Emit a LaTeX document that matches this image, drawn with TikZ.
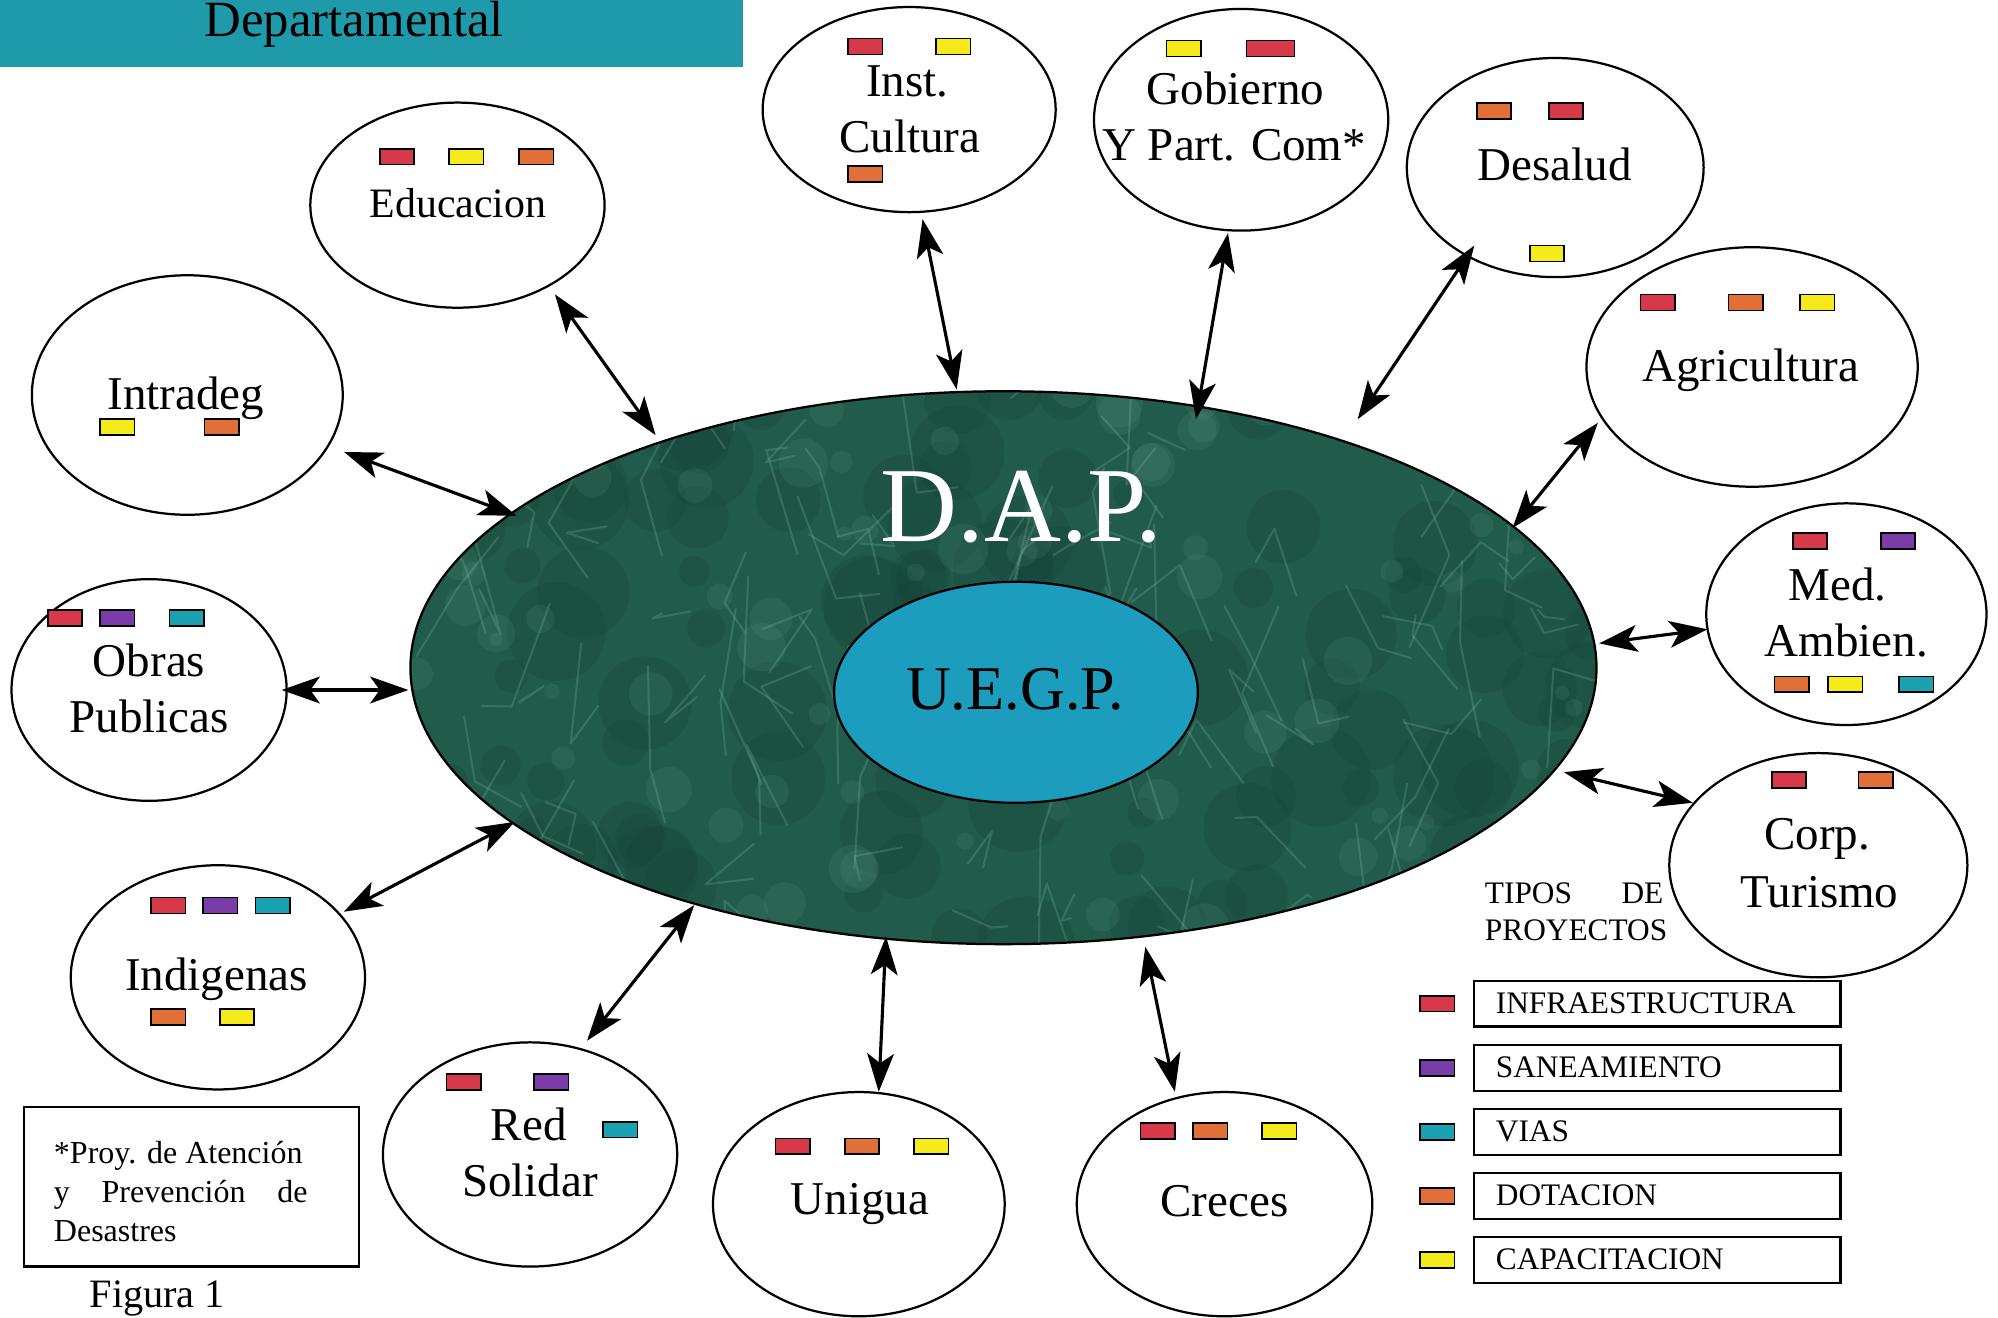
\documentclass[tikz,border=0pt]{standalone}
\usepackage{fontspec}
\setmainfont{Liberation Serif}
\usetikzlibrary{shapes.geometric,arrows.meta}
\definecolor{cred}{HTML}{D8394A}
\definecolor{cyel}{HTML}{F5EB1A}
\definecolor{cora}{HTML}{E07038}
\definecolor{cpur}{HTML}{7A3CA8}
\definecolor{ctea}{HTML}{1AA2B2}
\definecolor{hdrteal}{HTML}{1E9AAA}
\definecolor{uegpc}{HTML}{1C9DBE}
\definecolor{dapg}{HTML}{205B4B}
\definecolor{dapd}{HTML}{143F34}
\definecolor{dapv}{HTML}{7FBAA8}
\newcommand\mysq[3]{\draw[sqst, fill=#3] (#1-13.5,#2-6.25) rectangle (#1+13.5,#2+6.25);}
\newcommand\mysqw[3]{\draw[sqst, fill=#3] (#1-18.75,#2-6.25) rectangle (#1+18.75,#2+6.25);}
\tikzset{
  sat/.style={draw, ellipse, line width=1pt, inner sep=0, fill=white},
  lab/.style={inner sep=0, anchor=base, font=\fontsize{21}{25}\selectfont},
  conn/.style={line width=1.4pt, {Stealth[length=0.6cm,width=0.42cm,inset=0.15cm]}-{Stealth[length=0.6cm,width=0.42cm,inset=0.15cm]}},
  sqst/.style={line width=0.7pt, draw=black},
  legbox/.style={draw, line width=1.1pt, minimum width=5.76cm, minimum height=0.72cm, inner sep=0, anchor=west},
  legtxt/.style={inner sep=0, anchor=base west, font=\fontsize{14}{16}\selectfont},
  fntxt/.style={inner sep=0, anchor=base west, font=\fontsize{14.3}{16}\selectfont},
  vein/.style={draw=dapv, line width=0.9pt, opacity=0.25, line join=round, line cap=round},
}
\begin{document}
\begin{tikzpicture}[x=0.02cm, y=-0.02cm]
\useasboundingbox (0,0) rectangle (1568,1034);
\fill[white] (0,0) rectangle (1568,1034);

% header
\node[fill=hdrteal, minimum width=11.66cm, minimum height=1.04cm, anchor=north west, inner sep=0] (hdr) at (0,0) {};
\node[inner sep=0, anchor=base, font=\fontsize{22.7}{26}\selectfont] (hdrt) at (278,29) {Departamental};

% central ellipse
\node[ellipse, fill=dapg, minimum width=18.62cm, minimum height=8.68cm, inner sep=0] (dap) at (787.5,524) {};
\begin{scope}
\clip (787.5,524) ellipse [x radius=9.31cm, y radius=4.34cm];
\pgfmathsetseed{42}
\foreach \i in {1,...,110}{
  \pgfmathsetmacro\vax{320+935*rnd}
  \pgfmathsetmacro\vay{300+450*rnd}
  \pgfmathsetmacro\vrr{0.2+0.6*rnd}
  \fill[dapd, opacity=0.22] (\vax,\vay) circle [radius=\vrr cm];
}
\foreach \i in {1,...,90}{
  \pgfmathsetmacro\vax{320+935*rnd}
  \pgfmathsetmacro\vay{300+450*rnd}
  \pgfmathsetmacro\vrr{0.1+0.3*rnd}
  \fill[dapv, opacity=0.10] (\vax,\vay) circle [radius=\vrr cm];
}
\foreach \i in {1,...,140}{
  \pgfmathsetmacro\vax{320+935*rnd}
  \pgfmathsetmacro\vay{300+450*rnd}
  \pgfmathsetmacro\vbx{\vax+(rnd-0.5)*80}
  \pgfmathsetmacro\vby{\vay+(rnd-0.3)*120}
  \pgfmathsetmacro\vcx{\vbx+(rnd-0.5)*80}
  \pgfmathsetmacro\vcy{\vby+(rnd-0.3)*120}
  \draw[vein] (\vax,\vay) -- (\vbx,\vby) -- (\vcx,\vcy);
}
\end{scope}
\draw[line width=1pt] (dap.center) ellipse [x radius=9.31cm, y radius=4.34cm];
\node[inner sep=0, anchor=base, text=white, font=\fontsize{47.6}{50}\selectfont] (daptxt) at (801.5,425) {D.A.P.};
\node[ellipse, draw, line width=1pt, fill=uegpc, minimum width=5.71cm, minimum height=3.47cm, inner sep=0] (uegp) at (797.3,543.3) {};
\node[inner sep=0, anchor=base, font=\fontsize{27.8}{30}\selectfont] (uegptxt) at (796.5,557) {U.E.G.P.};

% satellites
\node[sat, minimum width=4.62cm, minimum height=3.22cm] (edu) at (359,161) {};
\node[sat, minimum width=4.6cm, minimum height=3.22cm] (cul) at (713.5,86) {};
\node[sat, minimum width=4.62cm, minimum height=3.48cm] (gob) at (974,94) {};
\node[sat, minimum width=4.66cm, minimum height=3.44cm] (sal) at (1220.5,131.5) {};
\node[sat, minimum width=5.2cm, minimum height=3.76cm] (agr) at (1375,288) {};
\node[sat, minimum width=4.4cm, minimum height=3.48cm] (amb) at (1449,482) {};
\node[sat, minimum width=4.68cm, minimum height=3.52cm] (tur) at (1427,679) {};
\node[sat, minimum width=4.64cm, minimum height=3.52cm] (cre) at (961,945) {};
\node[sat, minimum width=4.58cm, minimum height=3.52cm] (uni) at (674,945) {};
\node[sat, minimum width=4.62cm, minimum height=3.52cm] (red) at (416,906) {};
\node[sat, minimum width=4.62cm, minimum height=3.52cm] (ind) at (171,767) {};
\node[sat, minimum width=4.32cm, minimum height=3.48cm] (obr) at (117,541.5) {};
\node[sat, minimum width=4.88cm, minimum height=3.76cm] (int) at (147,310) {};

% labels
\node[lab, font=\fontsize{18.7}{22}\selectfont] (edu-t) at (359.5,171) {Educacion};
\node[lab] (cul-t1) at (712,76) {Inst.};
\node[lab] (cul-t2) at (714,120) {Cultura};
\node[lab] (gob-t1) at (969.5,82) {Gobierno};
\node[lab] (gob-t2) at (968.5,126) {Y Part. Com*};
\node[lab] (sal-t) at (1220,142) {Desalud};
\node[lab] (agr-t) at (1374,299) {Agricultura};
\node[lab] (amb-t1) at (1442,471) {Med.};
\node[lab] (amb-t2) at (1449,515) {Ambien.};
\node[lab] (tur-t1) at (1426,667) {Corp.};
\node[lab] (tur-t2) at (1428,712) {Turismo};
\node[lab] (cre-t) at (961,955) {Creces};
\node[lab] (uni-t) at (675,953) {Unigua};
\node[lab] (red-t1) at (415,895) {Red};
\node[lab] (red-t2) at (416,939) {Solidar};
\node[lab] (ind-t) at (170,777) {Indigenas};
\node[lab] (obr-t1) at (117,531) {Obras};
\node[lab] (obr-t2) at (117,575) {Publicas};
\node[lab] (int-t) at (146,321) {Intradeg};

% project squares
\mysq{311.5}{123}{cred}\mysq{366}{123}{cyel}\mysq{421}{123}{cora}
\mysq{679}{36.5}{cred}\mysq{748}{36.5}{cyel}\mysq{679}{136.5}{cora}
\mysq{929}{38}{cyel}\mysqw{997}{38}{cred}
\mysq{1172.5}{87}{cora}\mysq{1229}{87}{cred}\mysq{1214}{199}{cyel}
\mysq{1301}{237.5}{cred}\mysq{1370}{237.5}{cora}\mysq{1426}{237.5}{cyel}
\mysq{1420.5}{424.6}{cred}\mysq{1489.5}{424.6}{cpur}
\mysq{1406}{537}{cora}\mysq{1448}{537}{cyel}\mysq{1503.7}{537}{ctea}
\mysq{1404}{612}{cred}\mysq{1472}{612}{cora}
\mysq{908.6}{887.6}{cred}\mysq{949.8}{887.6}{cora}\mysq{1004}{887.6}{cyel}
\mysq{622}{899.6}{cred}\mysq{676.5}{899.6}{cora}\mysq{731}{899.6}{cyel}
\mysq{364}{849}{cred}\mysq{432.7}{849}{cpur}\mysq{486.8}{886.6}{ctea}
\mysq{132}{710.5}{cred}\mysq{173}{710.5}{cpur}\mysq{214}{710.5}{ctea}
\mysq{132}{798}{cora}\mysq{186}{798}{cyel}
\mysq{51}{485}{cred}\mysq{92}{485}{cpur}\mysq{146.6}{485}{ctea}
\mysq{92}{335}{cyel}\mysq{174}{335}{cora}

% connector end points
\coordinate (edu-o) at (435.5,231);   \coordinate (edu-i) at (514.5,341.5);
\coordinate (cul-o) at (724,172);     \coordinate (cul-i) at (750.8,305.7);
\coordinate (gob-o) at (963.7,183);   \coordinate (gob-i) at (938.6,329);
\coordinate (sal-o) at (1157,192.7);  \coordinate (sal-i) at (1065.5,329);
\coordinate (agr-o) at (1254,331.8);  \coordinate (agr-i) at (1187,414.4);
\coordinate (amb-o) at (1340,493.9);  \coordinate (amb-i) at (1255,504.9);
\coordinate (tur-o) at (1328.4,630);  \coordinate (tur-i) at (1227.4,606);
\coordinate (cre-o) at (922,856.8);   \coordinate (cre-i) at (898.8,743);
\coordinate (uni-o) at (689.6,856.8); \coordinate (uni-i) at (695.3,735);
\coordinate (red-o) at (460.7,816.7); \coordinate (red-i) at (544.8,710.3);
\coordinate (ind-o) at (269.8,715.5); \coordinate (ind-i) at (404,645);
\coordinate (obr-o) at (221,541.5);   \coordinate (obr-i) at (320.5,541.5);
\coordinate (int-o) at (270,354.7);   \coordinate (int-i) at (405.4,404.8);
\foreach \n in {edu,cul,gob,sal,agr,amb,tur,cre,uni,red,ind,obr,int}{
  \draw[conn] (\n-o) -- (\n-i);
}

% legend
\node[inner sep=0, anchor=base west, font=\fontsize{14}{16}\selectfont] (tip1) at (1165,709) {\makebox[2.8cm][s]{TIPOS DE}};
\node[inner sep=0, anchor=base west, font=\fontsize{14}{16}\selectfont] (tip2) at (1165,738) {PROYECTOS};
\node[legbox] (lb1) at (1155.6,787.7) {};
\node[legbox] (lb2) at (1155.6,838) {};
\node[legbox] (lb3) at (1155.6,888.3) {};
\node[legbox] (lb4) at (1155.6,938.5) {};
\node[legbox] (lb5) at (1155.6,988.8) {};
\node[legtxt] (lt1) at (1173.6,795.2) {INFRAESTRUCTURA};
\node[legtxt] (lt2) at (1173.6,845.5) {SANEAMIENTO};
\node[legtxt] (lt3) at (1173.6,895.8) {VIAS};
\node[legtxt] (lt4) at (1173.6,946) {DOTACION};
\node[legtxt] (lt5) at (1173.6,996.3) {CAPACITACION};
\mysq{1128}{787.7}{cred}
\mysq{1128}{838}{cpur}
\mysq{1128}{888.3}{ctea}
\mysq{1128}{938.5}{cora}
\mysq{1128}{988.8}{cyel}

% footnote
\node[draw, line width=1pt, minimum width=5.26cm, minimum height=2.5cm, anchor=north west, inner sep=0] (fnbox) at (18,868) {};
\node[fntxt] (fn1) at (42,913) {*Proy. de Atención};
\node[fntxt] (fn2) at (42,944) {\makebox[3.98cm][s]{y Prevención de}};
\node[fntxt] (fn3) at (42,974.5) {Desastres};
\node[inner sep=0, anchor=base west, font=\fontsize{18}{21}\selectfont] (fig) at (70,1026) {Figura 1};
\end{tikzpicture}
\end{document}
